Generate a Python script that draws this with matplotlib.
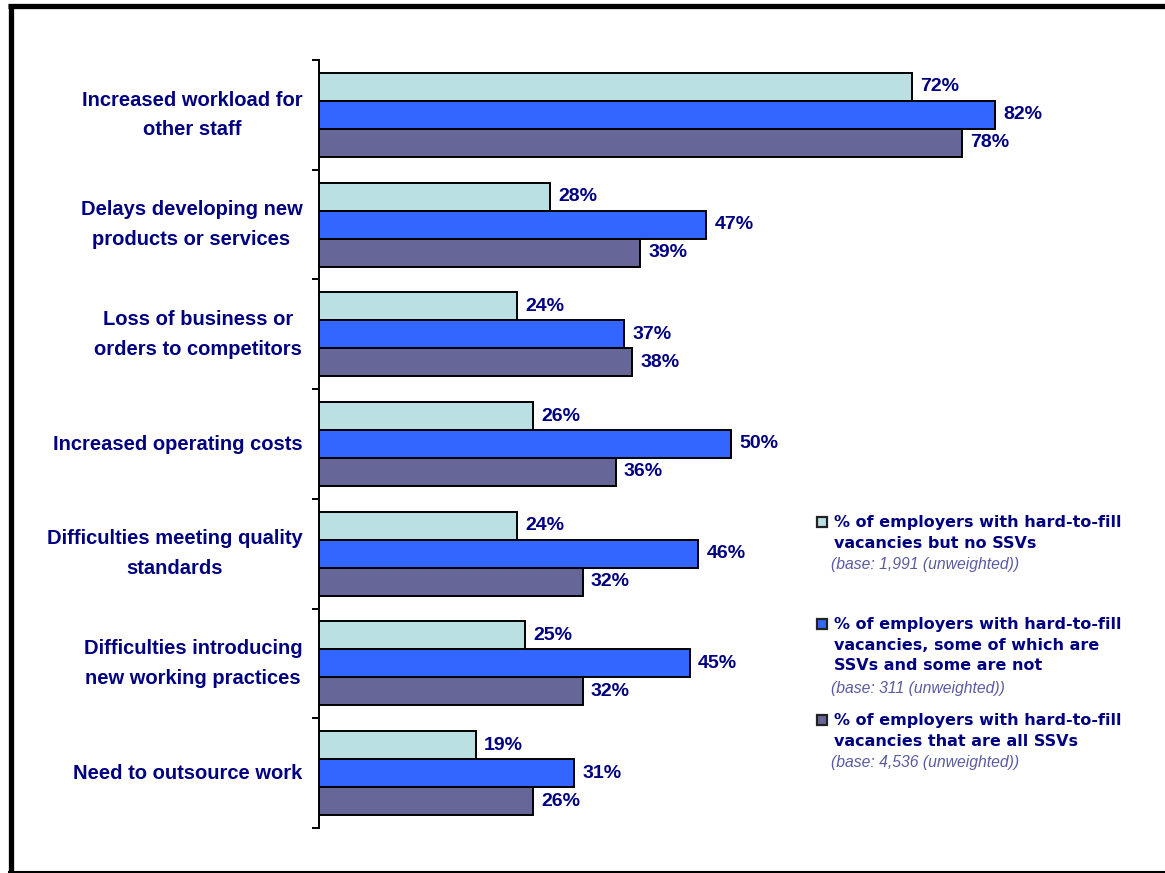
import numpy as np
import matplotlib.pyplot as plt
from matplotlib.lines import Line2D
from matplotlib.patches import Rectangle

categories = [
    "Increased workload for\nother staff",
    "Delays developing new\nproducts or services",
    "Loss of business or\norders to competitors",
    "Increased operating costs",
    "Difficulties meeting quality\nstandards",
    "Difficulties introducing\nnew working practices",
    "Need to outsource work",
]
no_ssv = [72, 28, 24, 26, 24, 25, 19]
some_ssv = [82, 47, 37, 50, 46, 45, 31]
all_ssv = [78, 39, 38, 36, 32, 32, 26]

series_names = [
    ["% of employers with hard-to-fill", "vacancies but no SSVs"],
    ["% of employers with hard-to-fill", "vacancies, some of which are",
     "SSVs and some are not"],
    ["% of employers with hard-to-fill", "vacancies that are all SSVs"],
]
bases = [
    "(base: 1,991 (unweighted))",
    "(base: 311 (unweighted))",
    "(base: 4,536 (unweighted))",
]
colors = ["#BBE0E3", "#3366FF", "#666699"]
navy = "#000080"

W, H = 1165, 873
fig = plt.figure(figsize=(W / 100, H / 100), dpi=100)
ax = fig.add_axes([319 / W, (H - 828) / H, 824 / W, 768 / H])

y = np.arange(len(categories))
bh = 0.255
for vals, off, c in zip([no_ssv, some_ssv, all_ssv], [-bh, 0, bh], colors):
    bars = ax.barh(y + off, vals, height=bh, color=c, edgecolor="black", linewidth=1.4)
    for b, v in zip(bars, vals):
        ax.annotate(f"{v}%", (b.get_width(), b.get_y() + b.get_height() / 2),
                    xytext=(6, 0), textcoords="offset points", va="center", ha="left",
                    fontsize=14, fontweight="bold", color=navy, family="Liberation Sans")

ax.set_xlim(0, 100)
ax.set_ylim(len(categories) - 0.5, -0.5)
ax.set_yticks(np.arange(-0.5, len(categories)))
ax.set_yticklabels([])
ax.set_yticks(y, minor=True)
labels = ax.set_yticklabels(categories, minor=True, fontsize=14.5, fontweight="bold",
                            color=navy, family="Liberation Sans",
                            multialignment="center", linespacing=1.7)
for lab in labels:
    lab.set_verticalalignment("center")
ax.tick_params(axis="y", which="major", length=5, width=1.4, direction="out")
ax.tick_params(axis="y", which="minor", length=0, pad=12)
ax.xaxis.set_visible(False)
for s in ["top", "right", "bottom"]:
    ax.spines[s].set_visible(False)
ax.spines["left"].set_linewidth(1.4)

# legend drawn by hand on the right, one text per line
leg_y = [522, 624, 720]
for lines, base, c, ly in zip(series_names, bases, colors, leg_y):
    fig.add_artist(Rectangle((817 / W, (H - ly - 5) / H), 10 / W, 10 / H,
                             facecolor=c, edgecolor="#222222", linewidth=1.6,
                             transform=fig.transFigure))
    for i, line in enumerate(lines):
        fig.text(834 / W, (H - ly - 21 * i) / H, line, ha="left", va="center",
                 fontsize=11.5, fontweight="bold", color=navy, family="DejaVu Sans")
    fig.text(831 / W, (H - ly - 21 * len(lines) - 1) / H, base, ha="left", va="center",
             fontsize=11.3, style="italic", color="#5A5AA0", family="Liberation Sans")

# outer frame
fig.add_artist(Line2D([10.5 / W, 10.5 / W], [0, (H - 4) / H], color="black", lw=3.8,
                      transform=fig.transFigure, solid_capstyle="butt"))
fig.add_artist(Line2D([8 / W, 1], [(H - 6) / H, (H - 6) / H], color="black", lw=3.8,
                      transform=fig.transFigure, solid_capstyle="butt"))
fig.add_artist(Line2D([8 / W, 1], [1 / H, 1 / H], color="black", lw=1.5,
                      transform=fig.transFigure, solid_capstyle="butt"))

fig.savefig("out.png", dpi=100)
